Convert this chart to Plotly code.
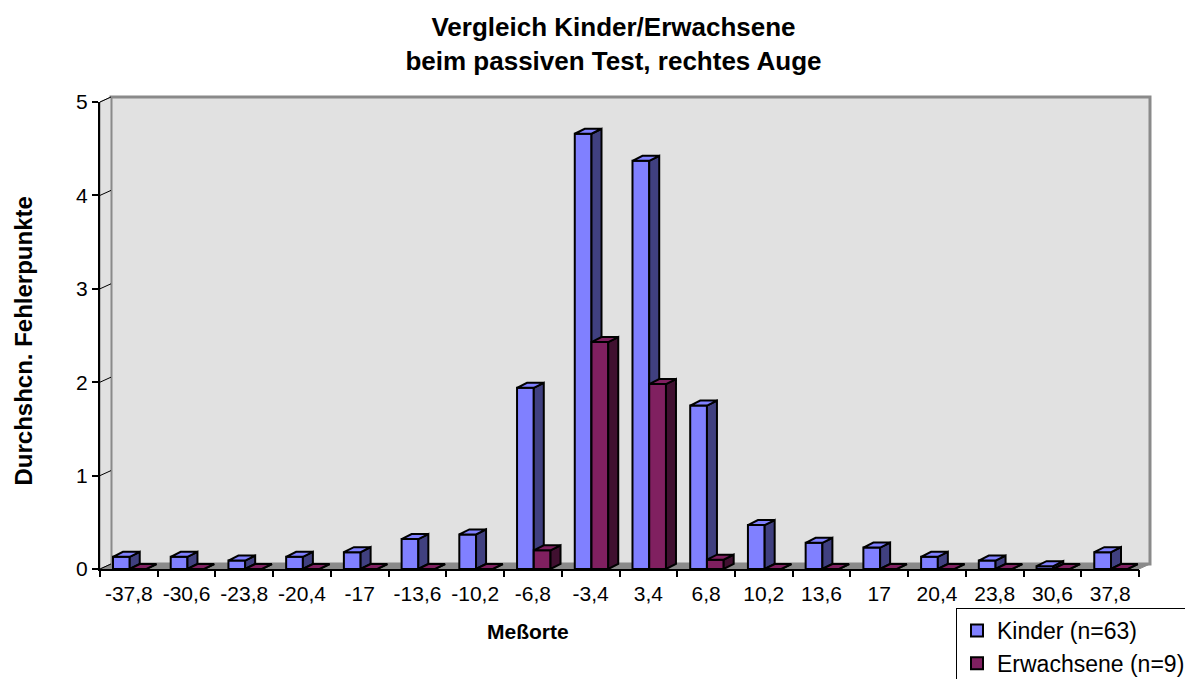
import plotly.graph_objects as go

# data
labels = ['-37,8', '-30,6', '-23,8', '-20,4', '-17', '-13,6', '-10,2', '-6,8', '-3,4',
          '3,4', '6,8', '10,2', '13,6', '17', '20,4', '23,8', '30,6', '37,8']
kinder = [0.13, 0.13, 0.09, 0.13, 0.18, 0.32, 0.37, 1.94, 4.66,
          4.37, 1.75, 0.47, 0.28, 0.23, 0.13, 0.09, 0.03, 0.18]
erwachsene = [0, 0, 0, 0, 0, 0, 0, 0.20, 2.43,
              1.98, 0.10, 0, 0, 0, 0, 0, 0, 0]
yticks = [0, 1, 2, 3, 4, 5]

FONT = 'Liberation Sans, Arial, sans-serif'
W, H = 1185, 679
L, R, T, B = 100, 35, 97, 110
pw = W - L - R
ph = H - T - B
DX, DY = 11, 5          # depth of the walls in px
n = len(labels)
ymax = 5

# depth of the bars in data units
bdx = 10 / ((pw - DX) / n)
bdy = 5 / ((ph - DY) / ymax)


def px(x):
    return (x - L) / pw


def py(y):
    return (H - B - y) / ph


def faces(vals, off, w):
    sx, sy, tx, ty = [], [], [], []
    for i, v in enumerate(vals):
        xl = i + off
        xr = xl + w
        sx += [xr, xr + bdx, xr + bdx, xr, xr, None]
        sy += [0, bdy, v + bdy, v, 0, None]
        tx += [xl, xl + bdx, xr + bdx, xr, xl, None]
        ty += [v, v + bdy, v + bdy, v, v, None]
    return sx, sy, tx, ty


fig = go.Figure()

series = [
    ('Kinder (n=63)', kinder, -0.275, '#8080FF', '#404080', '#8080FF', 'x2', 'y2'),
    ('Erwachsene (n=9)', erwachsene, 0.015, '#802060', '#401030', '#802060', 'x3', 'y3'),
]
bw = 0.29
for name, vals, off, c_front, c_side, c_top, xa, ya in series:
    fig.add_trace(go.Bar(x=list(range(n)), y=vals, offset=off, width=bw, name=name,
                         marker=dict(color=c_front, line=dict(color='black', width=2)),
                         xaxis=xa, yaxis=ya))
    sx, sy, tx, ty = faces(vals, off, bw)
    fig.add_trace(go.Scatter(x=sx, y=sy, fill='toself', fillcolor=c_side, mode='lines',
                             line=dict(color='black', width=2), showlegend=False,
                             hoverinfo='skip', xaxis=xa, yaxis=ya))
    fig.add_trace(go.Scatter(x=tx, y=ty, fill='toself', fillcolor=c_top, mode='lines',
                             line=dict(color='black', width=2), showlegend=False,
                             hoverinfo='skip', xaxis=xa, yaxis=ya))

# walls and floor of the 3d box
shapes = [
    dict(type='rect', xref='paper', yref='paper', layer='below',
         x0=px(L + DX), x1=1, y0=py(H - B - DY), y1=1,
         fillcolor='#e1e1e1', line=dict(color='#8a8a8a', width=3)),
    dict(type='path', xref='paper', yref='paper', layer='below',
         path='M %f %f L %f %f L %f %f L %f %f Z' % (0, 0, 0, py(T + DY), px(L + DX), 1,
                                                     px(L + DX), py(H - B - DY)),
         fillcolor='#e1e1e1', line=dict(color='#8a8a8a', width=1)),
    dict(type='path', xref='paper', yref='paper', layer='below',
         path='M %f %f L %f %f L %f %f L %f %f Z' % (0, 0, px(W - R - DX), 0, 1, py(H - B - DY),
                                                     px(L + DX), py(H - B - DY)),
         fillcolor='#8a8a8a', line=dict(color='#8a8a8a', width=1)),
]
uy = (ph - DY) / ymax / ph
for v in yticks:
    shapes.append(dict(type='line', xref='paper', yref='paper', layer='below',
                       x0=0, y0=v * uy, x1=px(L + DX), y1=py(H - B - DY) + v * uy,
                       line=dict(color='black', width=1)))

fig.update_layout(
    width=W, height=H,
    margin=dict(l=L, r=R, t=T, b=B, autoexpand=False),
    paper_bgcolor='white', plot_bgcolor='rgba(0,0,0,0)',
    barmode='overlay',
    font=dict(family=FONT, color='black', size=21),
    title=dict(text='<b>Vergleich Kinder/Erwachsene<br>beim passiven Test, rechtes Auge</b>',
               x=613.5 / W, xref='container', xanchor='center',
               y=1 - 36 / H, yref='container', yanchor='top',
               font=dict(size=26, family=FONT, color='black')),
    # back wall axes (only the gridlines)
    xaxis=dict(domain=[px(L + DX), 1], range=[-0.5, n - 0.5], visible=False, anchor='y'),
    yaxis=dict(domain=[py(H - B - DY), 1], range=[0, ymax], anchor='x',
               tickvals=yticks, showticklabels=False, ticks='',
               showgrid=True, gridcolor='#454545', gridwidth=1.5,
               zeroline=False, showline=False),
    # front axes
    xaxis2=dict(domain=[0, px(W - R - DX)], range=[-0.5, n - 0.5], anchor='y2',
                tickvals=list(range(n)), ticktext=labels, ticks='outside', ticklen=5,
                tickcolor='rgba(0,0,0,0)', showgrid=False, zeroline=False,
                showline=True, linecolor='black', linewidth=2,
                tickfont=dict(size=21)),
    yaxis2=dict(domain=[0, py(T + DY)], range=[0, ymax], anchor='x2',
                tickvals=yticks, ticks='outside', ticklen=6, tickcolor='black', tickwidth=1.5,
                showgrid=False, zeroline=False, showline=True, linecolor='black', linewidth=2,
                tickfont=dict(size=21)),
    xaxis3=dict(overlaying='x2', range=[-0.5, n - 0.5], anchor='y3', side='bottom',
                tickvals=[i - 0.5 for i in range(n + 1)], ticks='outside', ticklen=7,
                tickcolor='black', tickwidth=1.5, showticklabels=False,
                showgrid=False, zeroline=False, showline=False),
    yaxis3=dict(overlaying='y2', range=[0, ymax], anchor='x3', visible=False),
    shapes=shapes,
    legend=dict(x=px(956), y=py(608), xanchor='left', yanchor='top',
                bordercolor='black', borderwidth=1, bgcolor='white',
                font=dict(size=23, family=FONT), itemwidth=30),
    annotations=[
        dict(text='<b>Durchshcn. Fehlerpunkte</b>', textangle=-90, showarrow=False,
             xref='paper', yref='paper', x=px(23), y=py(341.5),
             xanchor='center', yanchor='middle', font=dict(size=24)),
        dict(text='<b>Meßorte</b>', showarrow=False,
             xref='paper', yref='paper', x=px(528), y=py(631),
             xanchor='center', yanchor='middle', font=dict(size=21)),
    ],
)

fig.write_html('out.html', config={'displayModeBar': False},
               post_script="document.body.style.margin='0';")
